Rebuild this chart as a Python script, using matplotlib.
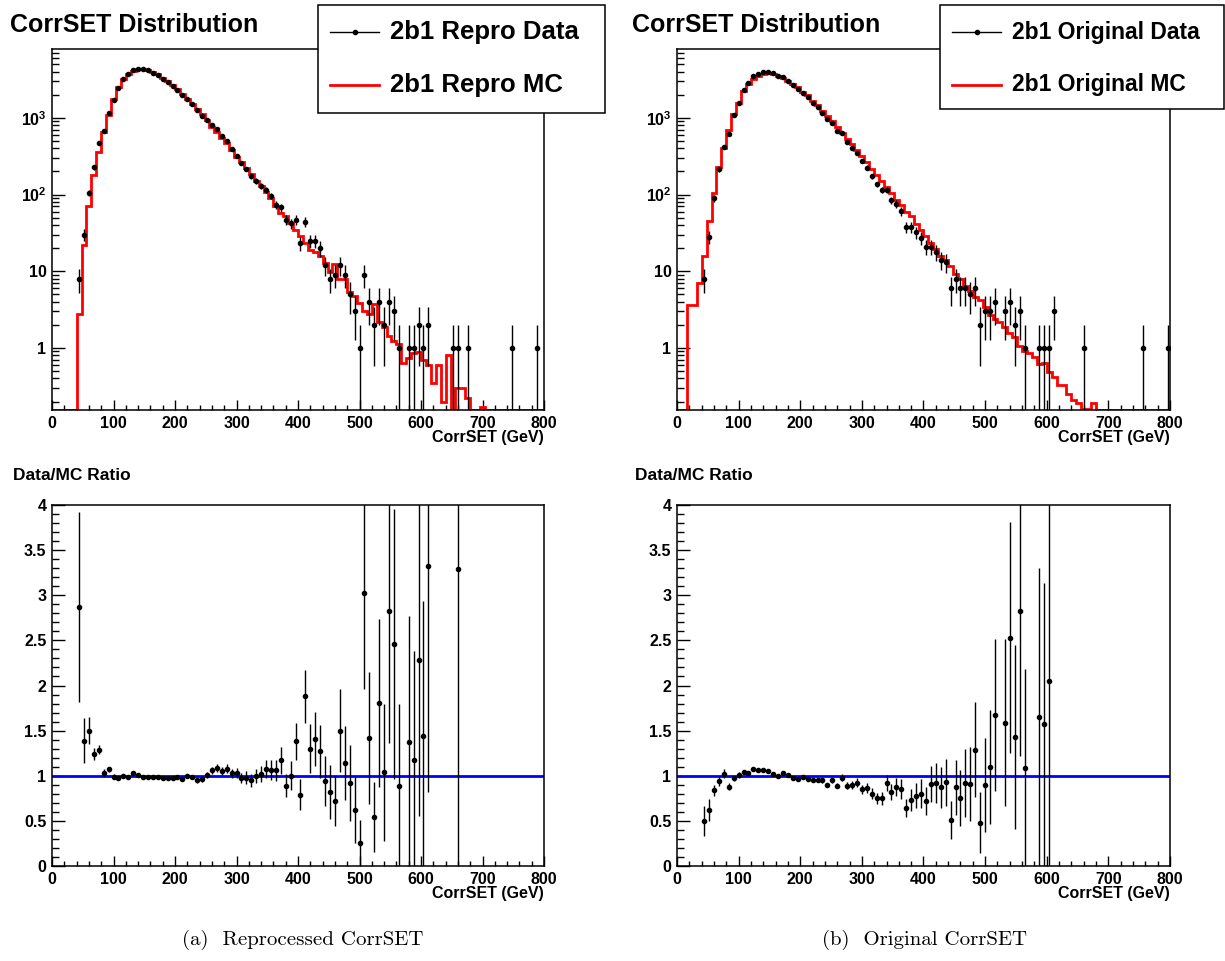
import numpy as np
import matplotlib
matplotlib.use("Agg")
import matplotlib.pyplot as plt
from matplotlib.ticker import MultipleLocator, FixedLocator, FixedFormatter, LogLocator, NullFormatter, FormatStrFormatter
from matplotlib.patches import Rectangle
from matplotlib.lines import Line2D

plt.rcParams['font.family'] = ['Liberation Sans', 'DejaVu Sans']
plt.rcParams['font.weight'] = 'bold'
plt.rcParams['mathtext.fontset'] = 'custom'
plt.rcParams['mathtext.rm'] = 'Liberation Sans:bold'
plt.rcParams['mathtext.bf'] = 'Liberation Sans:bold'
plt.rcParams['mathtext.it'] = 'Liberation Sans:bold:italic'

# ---------------- data (100 bins of 8 GeV, 0-800 GeV) ----------------
bin_edges = np.linspace(0, 800, 101)

repro_data = ([0] * 5 +
    [8, 30, 105, 226, 466, 675, 1163, 1722, 2473, 3213,
     3700, 4170, 4350, 4270, 4170, 3890, 3660, 3245, 2930, 2625,
     2326, 1983, 1757, 1512, 1247, 1062, 933, 817, 711, 581,
     505, 396, 321, 260, 217, 175, 150, 131, 116, 96,
     74, 68, 47, 42, 47, 23, 44, 25, 25, 20,
     12, 8, 9, 12, 9, 5, 3, 1, 9, 4,
     2, 4, 2, 4, 3, 1, 0, 1, 1, 2,
     1, 2, 0, 0, 0, 0, 1, 1, 0, 1,
     0, 0, 0, 0, 0, 0, 0, 0, 1, 0,
     0, 0, 0, 1, 0])

repro_mc = ([0] * 5 +
    [2.8, 21.7, 70, 182, 361, 655, 1087, 1740, 2536, 3213,
     3737, 4049, 4307, 4313, 4212, 3929, 3697, 3345, 3021, 2692,
     2349, 2066, 1757, 1527, 1313, 1106, 924, 771, 652, 553,
     468, 384, 312, 267, 221, 184, 150, 129, 109, 91,
     70, 58, 53, 42, 34, 29, 23.4, 19, 17.7, 15.7,
     12.8, 9.8, 12.5, 8, 7.9, 5.4, 4.8, 3.8, 3.0, 2.8,
     3.7, 2.2, 1.9, 1.42, 1.22, 1.12, 0.64, 0.73, 0.85, 0.88,
     0.69, 0.6, 0.35, 0.6, 0.2, 0.8, 0, 0.3, 0.3, 0.22,
     0, 0, 0.17, 0, 0, 0, 0, 0, 0, 0,
     0, 0, 0, 0, 0])

repro_ratio = ([None] * 5 +
    [2.87, 1.39, 1.50, 1.24, 1.29, 1.03, 1.07, 0.99, 0.975, 1.0,
     0.99, 1.03, 1.01, 0.99, 0.99, 0.99, 0.99, 0.97, 0.97, 0.975,
     0.99, 0.96, 1.0, 0.99, 0.95, 0.96, 1.01, 1.06, 1.09, 1.05,
     1.08, 1.03, 1.03, 0.975, 0.98, 0.95, 1.0, 1.02, 1.07, 1.06,
     1.06, 1.17, 0.89, 1.0, 1.38, 0.79, 1.88, 1.30, 1.41, 1.27,
     0.94, 0.82, 0.72, 1.50, 1.14, 0.92, 0.62, 0.26, 3.02, 1.42,
     0.54, 1.81, 1.04, 2.82, 2.46, 0.89, None, 1.37, 1.18, 2.28,
     1.44, 3.32, None, None, None, None, None, 3.29] +
    [None] * 17)

repro_ratio_err = ([None] * 5 +
    [1.05, 0.25, 0.15, 0.07, 0.05, 0.04, 0.03, 0.025, 0.02, 0.02,
     0.02, 0.02, 0.02, 0.02, 0.02, 0.02, 0.02, 0.02, 0.02, 0.02,
     0.02, 0.02, 0.02, 0.02, 0.025, 0.025, 0.03, 0.04, 0.045, 0.045,
     0.05, 0.05, 0.06, 0.06, 0.07, 0.07, 0.08, 0.09, 0.1, 0.11,
     0.12, 0.15, 0.13, 0.16, 0.21, 0.17, 0.29, 0.27, 0.3, 0.29,
     0.28, 0.3, 0.28, 0.46, 0.41, 0.42, 0.37, 0.25, 1.06, 0.73,
     0.39, 0.93, 0.76, 1.46, 1.5, 0.9, None, 1.4, 1.2, 1.73,
     1.5, 2.5, None, None, None, None, None, 3.3] +
    [None] * 17)

orig_data = ([0] * 5 +
    [8, 28, 89, 214, 418, 612, 1084, 1570, 2300, 2865,
     3500, 3750, 3980, 3980, 3800, 3535, 3430, 3040, 2700, 2390,
     2120, 1880, 1570, 1393, 1163, 953, 861, 670, 625, 477,
     406, 349, 272, 225, 173, 136, 114, 116, 85, 75,
     61, 38, 38, 32, 27, 21, 21, 18, 14, 13,
     6, 8, 6, 6, 5, 6, 2, 3, 3, 4,
     0, 3, 4, 2, 3, 1, 0, 0, 1, 1,
     1, 3, 0, 0, 0, 0, 0, 1, 0, 0,
     0, 0, 0, 0, 0, 0, 0, 0, 0, 1,
     0, 0, 0, 0, 1])

orig_mc = ([0] * 2 +
    [3.6, 3.6, 7, 16, 45, 106, 228, 410, 695, 1118, 1554, 2212, 2782,
     3241, 3538, 3755, 3790, 3725, 3535, 3330, 3010, 2755, 2490,
     2141, 1958, 1653, 1466, 1224, 1059, 906, 753, 638, 536,
     451, 379, 320, 262, 216, 181, 152, 126, 104, 85,
     72, 59, 52, 41, 34, 29, 23, 19.6, 16, 14,
     11.8, 9.2, 8, 6.5, 5.5, 4.65, 4.2, 3.4, 2.7, 2.4,
     2.2, 1.9, 1.58, 1.4, 1.06, 0.92, 0.85, 0.75, 0.61, 0.64,
     0.49, 0.42, 0.33, 0.33, 0.25, 0.21, 0.19, 0.16, 0.16, 0.19,
     0, 0, 0, 0, 0, 0, 0, 0, 0, 0,
     0, 0, 0, 0, 0])

orig_ratio = ([None] * 5 +
    [0.50, 0.62, 0.84, 0.94, 1.02, 0.88, 0.97, 1.01, 1.04, 1.03,
     1.08, 1.06, 1.06, 1.05, 1.02, 1.0, 1.03, 1.01, 0.98, 0.96,
     0.99, 0.96, 0.95, 0.95, 0.95, 0.90, 0.95, 0.89, 0.98, 0.89,
     0.90, 0.92, 0.85, 0.86, 0.80, 0.75, 0.75, 0.92, 0.82, 0.88,
     0.85, 0.64, 0.73, 0.78, 0.80, 0.72, 0.91, 0.92, 0.87, 0.93,
     0.51, 0.87, 0.75, 0.92, 0.91, 1.29, 0.48, 0.90, 1.10, 1.67,
     None, 1.59, 2.53, 1.43, 2.82, 1.09, None, None, 1.65, 1.57,
     2.05] + [None] * 24)

orig_ratio_err = ([None] * 5 +
    [0.17, 0.12, 0.06, 0.05, 0.05, 0.04, 0.03, 0.03, 0.025, 0.02,
     0.02, 0.02, 0.02, 0.02, 0.02, 0.02, 0.02, 0.02, 0.02, 0.02,
     0.02, 0.02, 0.02, 0.02, 0.025, 0.025, 0.03, 0.03, 0.04, 0.04,
     0.045, 0.05, 0.05, 0.055, 0.06, 0.06, 0.07, 0.085, 0.09, 0.1,
     0.11, 0.1, 0.12, 0.14, 0.16, 0.16, 0.2, 0.22, 0.23, 0.26,
     0.21, 0.31, 0.31, 0.38, 0.41, 0.53, 0.34, 0.52, 0.63, 0.84,
     None, 0.92, 1.28, 1.02, 1.6, 1.09, None, None, 1.65, 1.57,
     2.05] + [None] * 24)

panels = [
    dict(data=repro_data, mc=repro_mc, ratio=repro_ratio, rerr=repro_ratio_err,
         leg_data="2b1 Repro Data", leg_mc="2b1 Repro MC", leg_size=18.5,
         caption="(a)  Reprocessed CorrSET"),
    dict(data=orig_data, mc=orig_mc, ratio=orig_ratio, rerr=orig_ratio_err,
         leg_data="2b1 Original Data", leg_mc="2b1 Original MC", leg_size=16.5,
         caption="(b)  Original CorrSET"),
]

# ---------------- layout ----------------
W, H = 1225, 961
fig = plt.figure(figsize=(W / 100, H / 100), dpi=100)
YMIN, YMAX = 0.155, 7900

def fig_rect(x0, y0, x1, y1):
    return [x0 / W, 1 - y1 / H, (x1 - x0) / W, (y1 - y0) / H]

ax_lefts = [(52, 544), (677, 1170)]
centers = 0.5 * (bin_edges[:-1] + bin_edges[1:])

def style_axis(ax):
    ax.set_xlim(0, 800)
    ax.xaxis.set_major_locator(MultipleLocator(100))
    ax.xaxis.set_minor_locator(MultipleLocator(20))
    ax.xaxis.set_major_formatter(FormatStrFormatter('%g'))
    ax.tick_params(which='both', direction='in', top=False, right=False,
                   colors='black', labelsize=11.5, width=1)
    ax.tick_params(axis='x', which='major', length=7.5, pad=4)
    ax.tick_params(axis='x', which='minor', length=3.8)
    ax.tick_params(axis='y', which='major', length=9.5, pad=4)
    ax.tick_params(axis='y', which='minor', length=5)
    for sp in ax.spines.values():
        sp.set_linewidth(1.1)
        sp.set_color('black')
    ax.set_xlabel('CorrSET (GeV)', fontsize=11.5, fontweight='bold', ha='right', va='center')
    ax.xaxis.set_label_coords(1.0, -0.075)

for p, (x0, x1) in zip(panels, ax_lefts):
    axt = fig.add_axes(fig_rect(x0, 49, x1, 410))
    axb = fig.add_axes(fig_rect(x0, 505, x1, 866))

    data = np.array(p['data'], dtype=float)
    mc = np.array(p['mc'], dtype=float)
    m = data > 0
    err = np.sqrt(data)
    low = np.minimum(err, data - 1e-3)
    axt.set_yscale('log')
    axt.stairs(np.where(mc > 0, mc, YMIN), bin_edges, color='#ff0000', lw=2.0,
               baseline=None, zorder=2)
    axt.errorbar(centers[m], data[m], yerr=[low[m], err[m]], fmt='o', ms=3.0,
                 color='black', ecolor='black', elinewidth=1.0, capsize=0, zorder=3)
    axt.set_ylim(YMIN, YMAX)
    axt.yaxis.set_major_locator(FixedLocator([1, 10, 100, 1000]))
    axt.yaxis.set_major_formatter(FixedFormatter(['1', '10', r'$10^{2}$', r'$10^{3}$']))
    axt.yaxis.set_minor_locator(LogLocator(base=10, subs=np.arange(2, 10), numticks=20))
    axt.yaxis.set_minor_formatter(NullFormatter())
    style_axis(axt)

    ratio = np.array(p['ratio'], dtype=float)
    rerr = np.array(p['rerr'], dtype=float)
    k = ~np.isnan(ratio)
    axb.axhline(1.0, color='#0000ff', lw=2.0, zorder=2)
    axb.errorbar(centers[k], ratio[k], yerr=rerr[k], fmt='o', ms=3.0,
                 color='black', ecolor='black', elinewidth=1.0, capsize=0, zorder=3)
    axb.set_ylim(0, 4)
    axb.yaxis.set_major_locator(MultipleLocator(0.5))
    axb.yaxis.set_minor_locator(MultipleLocator(0.1))
    axb.yaxis.set_major_formatter(FormatStrFormatter('%g'))
    style_axis(axb)

# ---------------- overlay: titles, legends, captions ----------------
ov = fig.add_axes([0, 0, 1, 1], zorder=10)
ov.set_xlim(0, W)
ov.set_ylim(H, 0)
ov.axis('off')

for p, tx, leg in zip(panels, [10, 632], [(318, 605, 113), (940, 1224, 109)]):
    ov.text(tx, 25, 'CorrSET Distribution', fontsize=18, fontweight='bold',
            ha='left', va='center')
    ov.text(tx + 3, 475, 'Data/MC Ratio', fontsize=12.5, fontweight='bold',
            ha='left', va='center')
    lx0, lx1, ly1 = leg
    ov.add_patch(Rectangle((lx0, 5), lx1 - lx0, ly1 - 5, facecolor='white',
                           edgecolor='black', lw=1.1))
    ov.add_line(Line2D([lx0 + 12, lx0 + 61], [32, 32], color='black', lw=1.0))
    ov.add_line(Line2D([lx0 + 36.5], [32], marker='o', ms=3, color='black'))
    ov.add_line(Line2D([lx0 + 12, lx0 + 61], [85, 85], color='#ff0000', lw=2.0))
    ov.text(lx0 + 72, 32, p['leg_data'], fontsize=p['leg_size'], fontweight='bold',
            ha='left', va='center')
    ov.text(lx0 + 72, 85, p['leg_mc'], fontsize=p['leg_size'], fontweight='bold',
            ha='left', va='center')

ov.text(303, 940, panels[0]['caption'], fontsize=15, family='cmr10',
        fontweight='normal', ha='center', va='center')
ov.text(925, 940, panels[1]['caption'], fontsize=15, family='cmr10',
        fontweight='normal', ha='center', va='center')

fig.savefig('out.png', dpi=100)
